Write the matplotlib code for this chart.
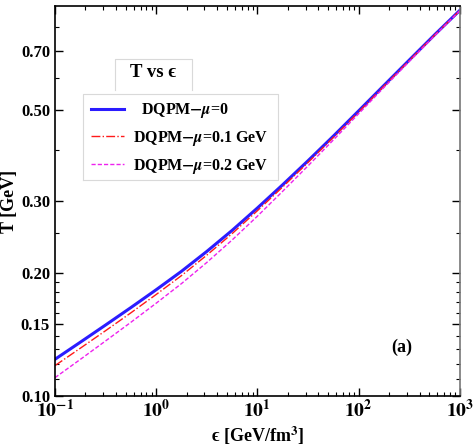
import matplotlib
matplotlib.use("Agg")
import matplotlib.pyplot as plt
from matplotlib.ticker import FixedLocator, NullFormatter

# energy density [GeV/fm^3] and temperature [GeV]
eps = [0.1, 0.1778, 0.3162, 0.5623, 1.0, 1.778, 3.162, 5.623, 10.0, 17.78, 31.62,
       56.23, 100.0, 177.8, 316.2, 562.3, 1000.0]
T_mu0 = [0.1230, 0.1354, 0.1492, 0.1646, 0.1820, 0.2019, 0.2258, 0.2542, 0.2884,
         0.3288, 0.3763, 0.4322, 0.4983, 0.5751, 0.6634, 0.7647, 0.8780]
T_mu01 = [0.1187, 0.1309, 0.1445, 0.1598, 0.1772, 0.1971, 0.2211, 0.2496, 0.2840,
          0.3247, 0.3726, 0.4289, 0.4955, 0.5727, 0.6616, 0.7633, 0.8770]
T_mu02 = [0.1109, 0.1229, 0.1364, 0.1515, 0.1687, 0.1884, 0.2122, 0.2408, 0.2754,
          0.3169, 0.3656, 0.4229, 0.4903, 0.5685, 0.6581, 0.7612, 0.8760]

yticks = [0.10, 0.15, 0.20, 0.30, 0.50, 0.70]
yminor = [0.11, 0.12, 0.13, 0.14, 0.16, 0.17, 0.18, 0.19, 0.25, 0.4, 0.6, 0.8]
xticks = [0.1, 1, 10, 100, 1000]
xlabels = [r'$\mathbf{10^{-1}}$', r'$\mathbf{10^{0}}$', r'$\mathbf{10^{1}}$',
           r'$\mathbf{10^{2}}$', r'$\mathbf{10^{3}}$']

plt.rcParams['font.family'] = ['Liberation Serif', 'DejaVu Serif']
plt.rcParams['font.weight'] = 'bold'
plt.rcParams['mathtext.fontset'] = 'stix'

fig = plt.figure(figsize=(4.74, 4.47), dpi=100)
ax = fig.add_axes([0.116, 0.114, 0.854, 0.8726])

ax.plot(eps, T_mu0, color='#2b1cff', lw=2.2, label=r'  DQPM$-\mu$=0')
ax.plot(eps, T_mu01, color='#ff1a1a', lw=1.0, ls='-.', label=r'DQPM$-\mu$=0.1 GeV')
ax.plot(eps, T_mu02, color='#ee22ee', lw=1.0, ls=(0, (3, 1.5)), label=r'DQPM$-\mu$=0.2 GeV')

ax.set_xscale('log')
ax.set_yscale('log')
ax.set_xlim(0.1, 1000)
ax.set_ylim(0.1, 0.9)

ax.yaxis.set_major_locator(FixedLocator(yticks))
ax.set_yticklabels(['%.2f' % v for v in yticks], fontsize=12, fontweight='bold')
ax.yaxis.set_minor_locator(FixedLocator(yminor))
ax.yaxis.set_minor_formatter(NullFormatter())
ax.xaxis.set_major_locator(FixedLocator(xticks))
ax.set_xticklabels(xlabels, fontsize=14)

ax.tick_params(which='both', direction='in', top=True, right=True)
ax.tick_params(which='major', length=6, width=1)
ax.tick_params(which='minor', length=3, width=0.8)
ax.tick_params(axis='x', pad=2)
for s in ax.spines.values():
    s.set_linewidth(1.2)
ax.spines['right'].set_color('#777777')

ax.set_ylabel('T [GeV]', fontsize=13, fontweight='bold')
ax.yaxis.set_label_coords(-0.092, 0.5)
ax.set_xlabel(r'ϵ [GeV/fm$^\mathbf{3}$]', fontsize=13, fontweight='bold')
ax.xaxis.set_label_coords(0.5, -0.072)

# legend frame and the open title box above it
box = dict(transform=ax.transAxes, color='#d9d9d9', lw=0.8, clip_on=False)
ax.plot([0.069, 0.069, 0.551, 0.551, 0.069], [0.554, 0.774, 0.774, 0.554, 0.554], **box)
ax.plot([0.148, 0.148, 0.338, 0.338], [0.785, 0.864, 0.864, 0.785], **box)
ax.text(0.242, 0.83, 'T vs ϵ', transform=ax.transAxes, fontsize=13.5,
        fontweight='bold', ha='center', va='center')
ax.legend(loc='upper left', bbox_to_anchor=(0.088, 0.756), frameon=False,
          borderpad=0, borderaxespad=0, handlelength=2.1, handletextpad=0.55,
          labelspacing=0.55, prop={'weight': 'bold', 'size': 11.5})

ax.text(0.857, 0.126, '(a)', transform=ax.transAxes, fontsize=13, fontweight='bold',
        ha='center', va='center')

fig.savefig('out.png', dpi=100)
